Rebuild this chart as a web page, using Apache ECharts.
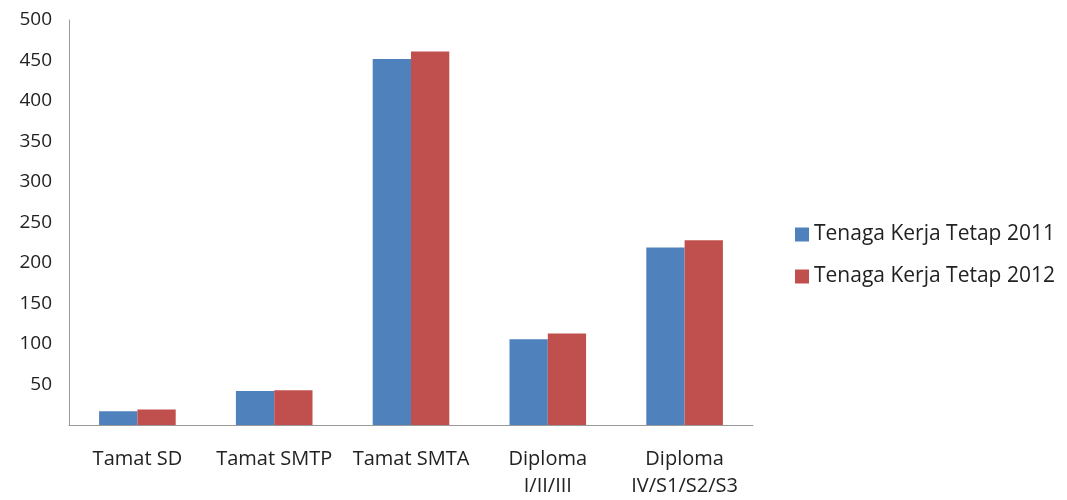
<!DOCTYPE html>
<html>
<head>
<meta charset="utf-8">
<style>
  html, body { margin: 0; padding: 0; background: #fff; }
  #chart { width: 1067px; height: 500px; }
</style>
<script src="https://cdn.jsdelivr.net/npm/echarts@6/dist/echarts.min.js"></script>
</head>
<body>
<div id="chart"></div>
<script>
const categories = ['Tamat SD', 'Tamat SMTP', 'Tamat SMTA', 'Diploma\nI/II/III', 'Diploma\nIV/S1/S2/S3'];
const tetap2011 = [17, 42, 452, 106, 219];
const tetap2012 = [19, 43, 461, 113, 228];
const seriesNames = ['Tenaga Kerja Tetap 2011', 'Tenaga Kerja Tetap 2012'];

const font = 'Open Sans, Lato, sans-serif';
const chart = echarts.init(document.getElementById('chart'), null, { renderer: 'canvas' });

chart.setOption({
  backgroundColor: '#fff',
  animation: false,
  textStyle: { fontFamily: font },
  grid: { left: 69, right: 314, top: 20, bottom: 72 },
  legend: {
    orient: 'vertical',
    left: 790,
    top: 219,
    itemWidth: 14,
    itemHeight: 14,
    itemGap: 21,
    icon: 'rect',
    textStyle: { fontSize: 21, color: '#222', fontFamily: font },
    data: seriesNames,
  },
  xAxis: {
    type: 'category',
    data: categories,
    axisLine: { lineStyle: { color: '#999', width: 1 } },
    axisTick: { show: false },
    axisLabel: { color: '#222', fontSize: 20, margin: 21, lineHeight: 27, interval: 0 },
  },
  yAxis: {
    type: 'value',
    min: 0,
    max: 500,
    interval: 50,
    axisLine: { show: true, lineStyle: { color: '#999', width: 1 } },
    axisTick: { show: false },
    splitLine: { show: false },
    axisLabel: { color: '#222', fontSize: 19, margin: 17, showMinLabel: false },
  },
  series: [
    {
      name: seriesNames[0],
      type: 'bar',
      data: tetap2011,
      barGap: '0%',
      barCategoryGap: '44%',
      itemStyle: { color: '#4F81BD' },
    },
    {
      name: seriesNames[1],
      type: 'bar',
      data: tetap2012,
      itemStyle: { color: '#C0504D' },
    },
  ],
});
</script>
</body>
</html>
